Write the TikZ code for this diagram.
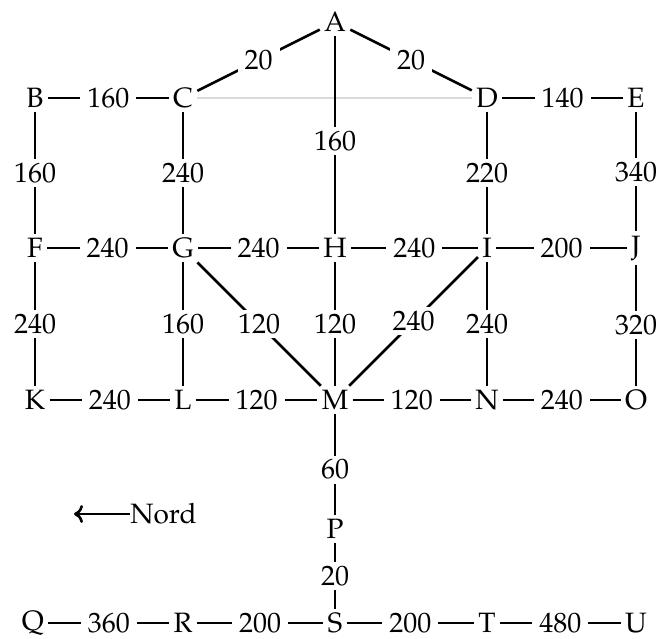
\documentclass[tikz,border=0pt]{standalone}
\usepackage[T1]{fontenc}
\usepackage{mathpazo}
\usepackage{tikz}
\usetikzlibrary{positioning,arrows.meta}

\tikzset{
	city/.style={inner sep=2pt, font=\fontsize{14}{16}\selectfont},
	dist/.style={fill=white, inner xsep=3.5pt, inner ysep=2pt, font=\fontsize{14}{16}\selectfont},
	road/.style={line width=1.3pt}
}

\begin{document}
\begin{tikzpicture}[x=0.5pt,y=-0.5pt]
		\useasboundingbox (0,0) rectangle (656,638);
		\draw 
			(335,22) node [city] (a) {A}
			(35,98) node [city] (b) {B}
			(183,98) node [city] (c) {C}
			(487,98) node [city] (d) {D}
			(636,98) node [city] (e) {E}
			(35,248) node [city] (f) {F}
			(183,248) node [city] (g) {G}
			(335,248) node [city] (h) {H}
			(487,248) node [city] (i) {I}
			(636,248) node [city] (j) {J}
			(35,400) node [city] (k) {K}
			(183,400) node [city] (l) {L}
			(335,400) node [city] (m) {M}
			(487,400) node [city] (n) {N}
			(636,400) node [city] (o) {O}
			(335,529) node [city] (p) {P}
			(33,623) node [city] (q) {Q}
			(183,623) node [city] (r) {R}
			(335,623) node [city] (s) {S}
			(487,623) node [city] (t) {T}
			(636,623) node [city] (u) {U}
			(130,514) node [city, anchor=west, inner sep=0pt] (nord) {Nord}
			;
		\coordinate (west) at (74,514);
		\draw [gray!30, line width=0.9pt] (c) -- (d);
		\draw [road]
			(a) edge node [dist] {20} (c)
				edge node [dist] {20} (d)
				edge node [dist, pos=0.53] {160} (h)
			(b) edge node [dist] {160} (c)
				edge node [dist] {160} (f)
			(c) edge node [dist] {240} (g)
			(d) edge node [dist] {140} (e)
				edge node [dist] {220} (i)
			(e) edge node [dist] {340} (j)
			(f) edge node [dist] {240} (g)
				edge node [dist] {240} (k)
			(g) edge node [dist] {240} (h)
				edge node [dist] {160} (l)
				edge node [dist] {120} (m)
			(h) edge node [dist] {240} (i)
				edge node [dist] {120} (m)
			(i) edge node [dist] {200} (j)
				edge node [dist] {240} (n)
				edge node [dist] {240} (m)
			(j) edge node [dist] {320} (o)
			(k) edge node [dist] {240} (l)
			(l) edge node [dist] {120} (m)
			(m) edge node [dist] {120} (n)
				edge node [dist, pos=0.55] {60} (p)
			(n) edge node [dist] {240} (o)
			(p) edge node [dist] {20} (s)
			(q) edge node [dist] {360} (r)
			(r) edge node [dist] {200} (s)
			(s) edge node [dist] {200} (t)
			(t) edge node [dist] {480} (u)
			;
		\draw [road, -{To[length=4.5pt,width=9pt]}] (nord) -- (west);
	\end{tikzpicture}
\end{document}
